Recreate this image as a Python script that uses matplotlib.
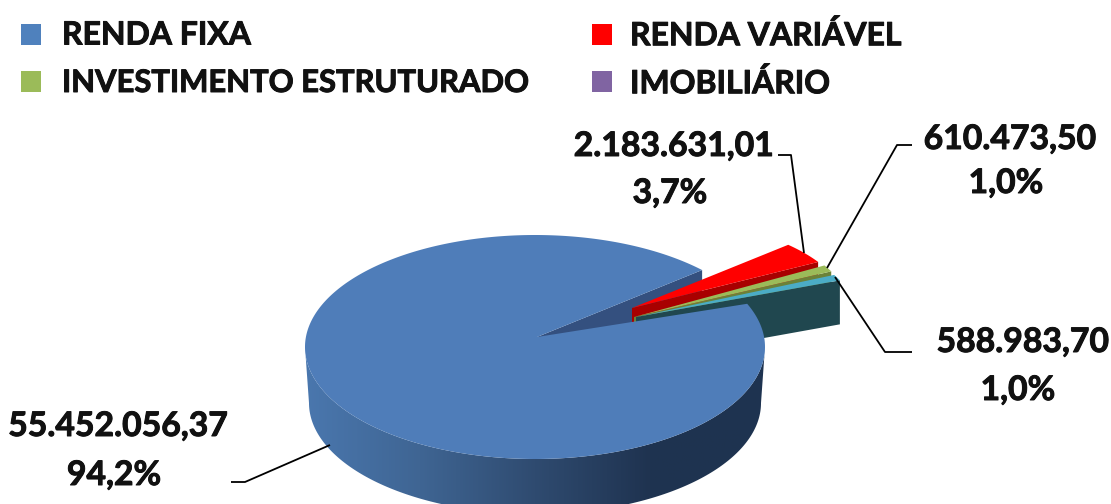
import numpy as np
from matplotlib import pyplot as plt
from matplotlib import patheffects as pe
from matplotlib.colors import LinearSegmentedColormap
from matplotlib.patches import Polygon, Rectangle

categorias = ['RENDA FIXA', 'RENDA VARIÁVEL', 'INVESTIMENTO ESTRUTURADO', 'IMOBILIÁRIO']
valores = [55452056.37, 2183631.01, 610473.50, 588983.70]
rotulos_valor = ['55.452.056,37', '2.183.631,01', '610.473,50', '588.983,70']
rotulos_pct = ['94,2%', '3,7%', '1,0%', '1,0%']

cor_legenda = ['#4F81BD', '#FF0000', '#9BBB59', '#8064A2']
cor_topo = ['#4F7DB9', '#FF0000', '#9BBB59', '#4BACC6']
cor_parede = ['#34507F', '#A80000', '#6B8238', '#20474F']

ANG_INICIO = 43.4
# centro, apice e raios de cada fatia na tela
geometria = {
    1: dict(apice=(632, 308), a=215, b=92),
    2: dict(apice=(634, 317), a=220, b=103),
    3: dict(apice=(636, 317), a=221, b=95),
}
CENTRO = (535, 347)
A, B = 230, 112
ALTURA = 44
ALTURA_AZUL = 56

plt.rcParams['font.family'] = ['Lato', 'DejaVu Sans']
fig = plt.figure(figsize=(11.11, 5.04), dpi=100)
ax = fig.add_axes([0, 0, 1, 1])

fracoes = np.array(valores) / sum(valores)
varreduras = fracoes * 360

# parede externa da fatia grande, com degrade
t = np.radians(np.linspace(180, 360, 200))
topo_x = CENTRO[0] + A * np.cos(t)
topo_y = CENTRO[1] - B * np.sin(t)
base_x = CENTRO[0] + (A - 4) * np.cos(t)
base_y = CENTRO[1] + ALTURA_AZUL - (B - 1) * np.sin(t)
lateral = Polygon(np.r_[np.c_[topo_x, topo_y], np.c_[base_x, base_y][::-1]],
                  closed=True, fc='none', ec='none')
ax.add_patch(lateral)
degrade = LinearSegmentedColormap.from_list(
    'lateral', ['#4A77AE', '#3F6593', '#2F4B70', '#1F3350', '#1E3450'])
img = ax.imshow(np.linspace(0, 1, 256)[None, :], cmap=degrade, aspect='auto',
                extent=(305, 765, 520, 340), zorder=1)
img.set_clip_path(lateral)

# parede interna do corte da fatia grande
apice_azul = (537, 337)
fim = np.radians(ANG_INICIO)
fx = CENTRO[0] + A * np.cos(fim)
fy = CENTRO[1] - B * np.sin(fim)
ax.add_patch(Polygon([apice_azul, (fx, fy), (fx, fy + ALTURA_AZUL),
                      (apice_azul[0], apice_azul[1] + ALTURA_AZUL)],
                     closed=True, fc=cor_parede[0], ec='none', zorder=2))

# fatias pequenas destacadas, sentido horario
ang = ANG_INICIO
z = 3
for i in [1, 2, 3]:
    g = geometria[i]
    ax_, ay_ = g['apice']
    th = np.radians(np.linspace(ang, ang - varreduras[i], 12))
    px = ax_ + g['a'] * np.cos(th)
    py = ay_ - g['b'] * np.sin(th)
    # face radial inferior
    ax.add_patch(Polygon([(ax_, ay_), (px[-1], py[-1]), (px[-1], py[-1] + ALTURA),
                          (ax_, ay_ + ALTURA)],
                         closed=True, fc=cor_parede[i], ec='none', zorder=z))
    ax.add_patch(Polygon(np.r_[[(ax_, ay_)], np.c_[px, py]], closed=True,
                         fc=cor_topo[i], ec='none', zorder=z + 0.5))
    ang -= varreduras[i]
    z += 1

# topo da fatia grande
th = np.radians(np.linspace(ang, ang - varreduras[0], 400))
ax.add_patch(Polygon(np.r_[[apice_azul], np.c_[CENTRO[0] + A * np.cos(th),
                                               CENTRO[1] - B * np.sin(th)]],
                     closed=True, fc=cor_topo[0], ec='none', zorder=8))

# linhas de chamada
chamadas = [
    [(231, 482), (245, 482), (330, 445)],
    [(778, 155), (791, 155), (804, 253)],
    [(912, 145), (897, 145), (827, 268)],
    [(912, 352), (885, 352), (835, 277)],
]
for c in chamadas:
    xs, ys = zip(*c)
    ax.plot(xs, ys, color='black', lw=1.3, zorder=9, solid_capstyle='butt')

# texto mais pesado que o Lato Bold normal
traco = [pe.withStroke(linewidth=0.7, foreground='#111111')]

# rotulos
pos_valor = [(118, 426), (674, 146), (1010, 139), (1023, 342)]
pos_pct = [(114, 475), (670, 193), (1006, 183), (1018, 390)]
for i in range(4):
    ax.text(*pos_valor[i], rotulos_valor[i], ha='center', va='center', fontsize=24.3,
            fontweight='bold', color='#111111', zorder=10, path_effects=traco)
    ax.text(*pos_pct[i], rotulos_pct[i], ha='center', va='center', fontsize=24.3,
            fontweight='bold', color='#111111', zorder=10, path_effects=traco)

# legenda
pos_legenda = [(21, 24), (592, 24), (21, 71), (592, 71)]
pos_texto = [(62, 35), (630, 35), (62, 83), (630, 83)]
tam_legenda = [23, 23, 22.3, 23]
for i in range(4):
    ax.add_patch(Rectangle(pos_legenda[i], 20, 21, fc=cor_legenda[i], ec='none', zorder=10))
    ax.text(*pos_texto[i], categorias[i], ha='left', va='center', fontsize=tam_legenda[i],
            fontweight='bold', color='#111111', zorder=10, path_effects=traco)

ax.set_xlim(0, 1111)
ax.set_ylim(504, 0)
ax.axis('off')
fig.savefig('out.png', dpi=100, facecolor='white')
